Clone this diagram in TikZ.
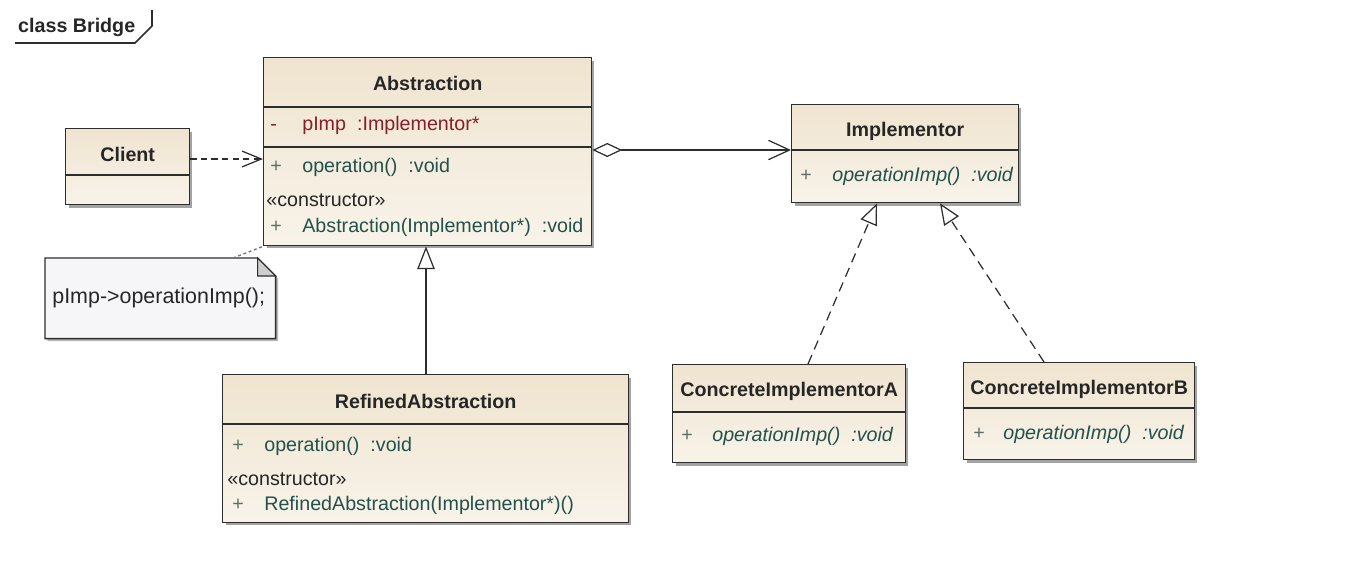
\documentclass[tikz,border=0pt]{standalone}
\usepackage{fontspec}
\setmainfont{Liberation Sans}
\usepackage{xcolor}
\usepackage{tikz}
\usetikzlibrary{arrows.meta, positioning, calc, shadows, backgrounds}
\definecolor{classtop}{RGB}{239,228,207}
\definecolor{classbot}{RGB}{248,243,234}
\definecolor{umlline}{RGB}{45,45,45}
\definecolor{attrred}{RGB}{135,30,40}
\definecolor{opgreen}{RGB}{35,82,76}
\definecolor{signgray}{RGB}{95,110,100}
\definecolor{notefill}{RGB}{246,246,249}
\definecolor{foldgray}{RGB}{205,205,205}
\newcommand{\vis}[1]{\makebox[0.64cm][l]{#1}}
\newcommand{\retgap}{\hspace{0.22cm}}

\begin{document}
\begin{tikzpicture}[
  x=0.02cm, y=-0.02cm,
  every node/.style={font=\fontsize{11.2}{13.4}\selectfont, text=black!85},
  classbox/.style={rectangle, draw=umlline, line width=0.8pt, anchor=north west,
    top color=classtop, bottom color=classbot,
    drop shadow={shadow xshift=1.6pt, shadow yshift=-1.6pt, fill=black!45, opacity=0.8}},
  classtitle/.style={font=\fontsize{11.2}{13.4}\selectfont\bfseries},
  member/.style={anchor=west, inner sep=0pt, text=opgreen},
  attr/.style={anchor=west, inner sep=0pt, text=attrred},
  stereo/.style={anchor=west, inner sep=0pt, text=black!85},
  divider/.style={draw=umlline, line width=0.8pt},
  dep/.style={-{Straight Barb[length=11pt, width=9pt]}, draw=umlline, line width=0.7pt,
    dash pattern=on 3.5pt off 2.5pt},
  aggr/.style={{Diamond[open, length=17pt, width=8pt]}-{Straight Barb[length=12pt, width=11pt]},
    draw=umlline, line width=0.7pt},
  inherit/.style={-{Triangle[open, length=13pt, width=10pt]}, draw=umlline, line width=0.7pt},
  realize/.style={-{Triangle[open, length=12pt, width=10pt]}, draw=umlline, line width=0.7pt,
    dash pattern=on 5.5pt off 3.5pt},
  noteline/.style={draw=black!55, line width=0.8pt, dash pattern=on 1.6pt off 1.6pt}
]
\useasboundingbox (0,0) rectangle (1361,582);

% frame tab
\node[anchor=west, classtitle] (frame) at (12,27) {class Bridge};
\draw[umlline, line width=0.9pt] (15,43) -- (135,43) -- (152,26) -- (152,10);

% class boxes
\node[classbox, minimum width=2.48cm, minimum height=1.52cm] (client) at (65,128) {};
\node[classbox, minimum width=6.56cm, minimum height=3.76cm] (abs) at (263,57) {};
\node[classbox, minimum width=4.54cm, minimum height=1.96cm] (imp) at (791,104) {};
\node[classbox, minimum width=8.12cm, minimum height=2.96cm] (ref) at (222,374) {};
\node[classbox, minimum width=4.66cm, minimum height=1.96cm] (cia) at (672,364) {};
\node[classbox, minimum width=4.62cm, minimum height=1.94cm] (cib) at (963,362) {};

\draw[divider] (client.west |- 0,175) -- (client.east |- 0,175);
\draw[divider] (abs.west |- 0,107) -- (abs.east |- 0,107);
\draw[divider] (abs.west |- 0,147) -- (abs.east |- 0,147);
\draw[divider] (imp.west |- 0,150) -- (imp.east |- 0,150);
\draw[divider] (ref.west |- 0,424) -- (ref.east |- 0,424);
\draw[divider] (cia.west |- 0,412) -- (cia.east |- 0,412);
\draw[divider] (cib.west |- 0,408) -- (cib.east |- 0,408);

% texts
\node[classtitle] (clientname) at (client.center |- 0,154) {Client};

\node[classtitle] (absname) at (abs.center |- 0,83) {Abstraction};
\node[attr] (absattr) at (270,125) {\vis{-}pImp\retgap:Implementor*};
\node[member] (absop) at (270,167) {\textcolor{signgray}{\vis{+}}operation()\retgap:void};
\node[stereo] (absstereo) at (266,200) {«constructor»};
\node[member] (absctor) at (270,227) {\textcolor{signgray}{\vis{+}}Abstraction(Implementor*)\retgap:void};

\node[classtitle] (impname) at (imp.center |- 0,131) {Implementor};
\node[member] (impop) at (800,176) {\textcolor{signgray}{\vis{+}}\itshape operationImp()\retgap:void};

\node[classtitle] (refname) at (ref.center |- 0,401) {RefinedAbstraction};
\node[member] (refop) at (232,446) {\textcolor{signgray}{\vis{+}}operation()\retgap:void};
\node[stereo] (refstereo) at (227,479) {«constructor»};
\node[member] (refctor) at (232,505) {\textcolor{signgray}{\makebox[0.64cm][l]{+}}RefinedAbstraction(Implementor*)()};

\node[classtitle] (cianame) at (cia.center |- 0,391) {ConcreteImplementorA};
\node[member] (ciaop) at (681,436) {\textcolor{signgray}{\makebox[0.62cm][l]{+}}\itshape operationImp()\retgap:void};

\node[classtitle] (cibname) at (cib.center |- 0,389) {ConcreteImplementorB};
\node[member] (cibop) at (973,434) {\textcolor{signgray}{\makebox[0.6cm][l]{+}}\itshape operationImp()\retgap:void};

% note
\node[anchor=north west, minimum width=4.6cm, minimum height=1.6cm, text width=4.32cm,
  inner sep=0.14cm, align=left, font=\fontsize{12.2}{14.4}\selectfont] (note) at (45,258)
  {pImp->operationImp();};
\begin{pgfonlayer}{background}
  \draw[draw=umlline, line width=0.8pt, fill=notefill,
    drop shadow={shadow xshift=1.4pt, shadow yshift=-1.4pt, fill=black!35, opacity=0.8}]
    (note.north west) -- ($(note.north east)+(-18,0)$) -- ($(note.north east)+(0,18)$)
    -- (note.south east) -- (note.south west) -- cycle;
  \draw[draw=umlline, line width=0.6pt, fill=foldgray]
    ($(note.north east)+(-18,0)$) -- ($(note.north east)+(-18,18)$) -- ($(note.north east)+(0,18)$) -- cycle;
\end{pgfonlayer}

% connectors
\draw[dep] (client.east |- 0,159) -- (abs.west |- 0,159);
\draw[aggr] (abs.east |- 0,150) -- (imp.west |- 0,150);
\draw[inherit] (ref.north -| 426,0) -- (abs.south -| 426,0);
\draw[realize] (808,0 |- cia.north) -- (877,0 |- imp.south);
\draw[realize] (1044,0 |- cib.north) -- (940,0 |- imp.south);
\draw[noteline] (233,0 |- note.north) -- (abs.south west);

\end{tikzpicture}
\end{document}
